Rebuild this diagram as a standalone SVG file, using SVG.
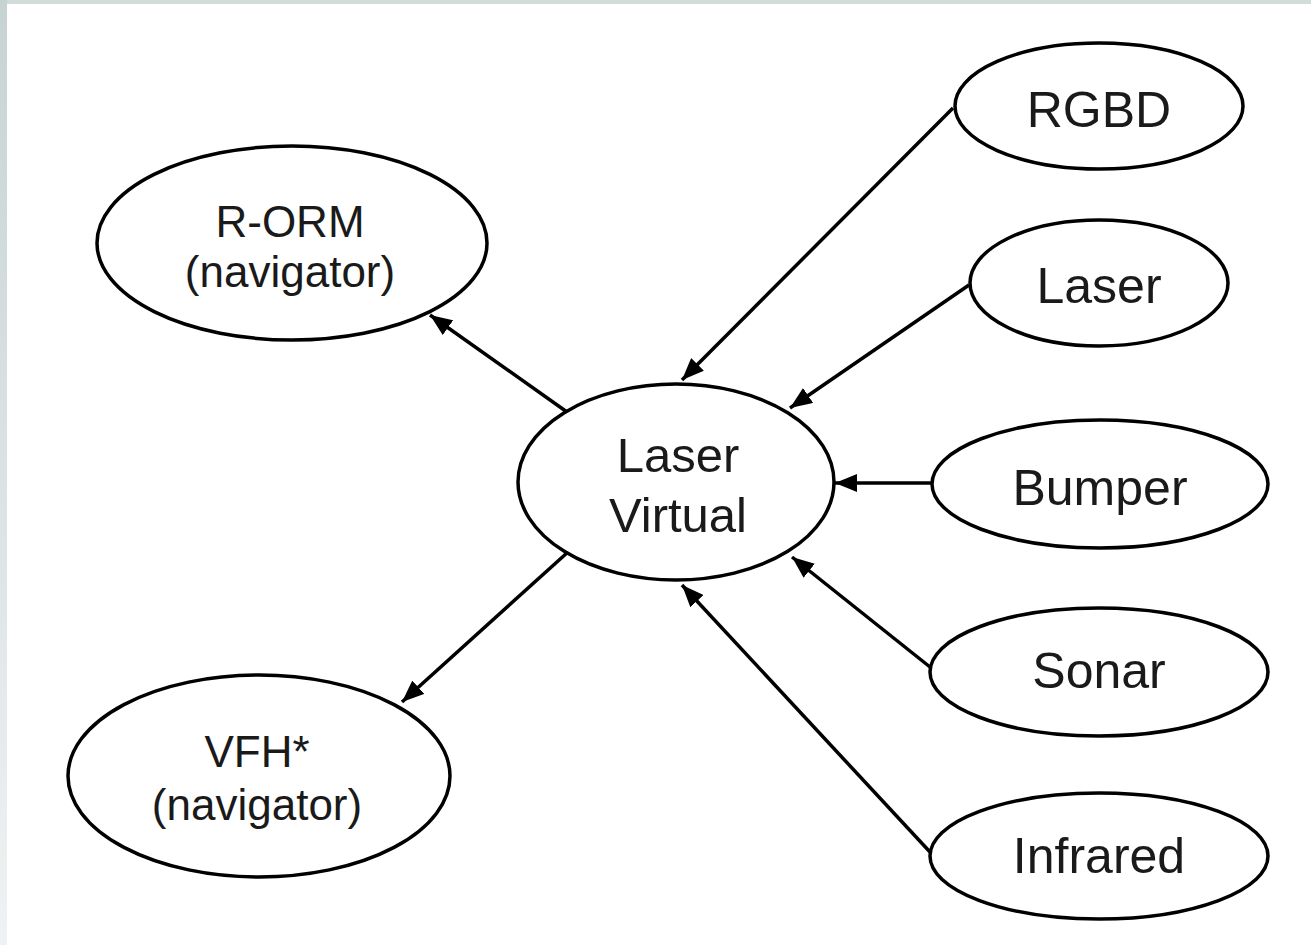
<svg xmlns="http://www.w3.org/2000/svg" width="1311" height="945" viewBox="0 0 1311 945">
<defs>
<linearGradient id="side" x1="0" y1="0" x2="0" y2="1">
<stop offset="0" stop-color="#c6d4d1"/>
<stop offset="1" stop-color="#eef2f2"/>
</linearGradient>
<marker id="arr" markerUnits="userSpaceOnUse" markerWidth="24" markerHeight="18" refX="22" refY="9" orient="auto">
<path d="M0,0 L22,9 L0,18 z" fill="#000"/>
</marker>
</defs>
<style>
.node ellipse{fill:#fff;stroke:#000;stroke-width:3.5}
.node text{font-family:"Liberation Sans",Arial,sans-serif;fill:#1a1a1a;text-anchor:middle}
.edge line{stroke:#000;stroke-width:3.5;marker-end:url(#arr)}
</style>
<rect width="1311" height="945" fill="#fff"/>
<rect width="1311" height="4" fill="#d2dcdb"/>
<rect width="7" height="945" fill="url(#side)"/>
<g id="connectors" class="edge">
<line x1="567" y1="412" x2="430" y2="315"/>
<line x1="568" y1="552" x2="402" y2="702"/>
<line x1="953" y1="108" x2="682" y2="380"/>
<line x1="969" y1="285" x2="790" y2="408"/>
<line x1="931" y1="483" x2="835" y2="483"/>
<line x1="930" y1="667" x2="792" y2="557"/>
<line x1="930" y1="852" x2="682" y2="585"/>
</g>
<g id="n-rorm" class="node">
<ellipse cx="292" cy="243" rx="195" ry="97"/>
<text x="290" y="237" font-size="44">R-ORM</text>
<text x="290" y="287" font-size="44">(navigator)</text>
</g>
<g id="n-vfh" class="node">
<ellipse cx="259" cy="776" rx="191" ry="101"/>
<text x="257" y="767" font-size="44">VFH*</text>
<text x="257" y="820" font-size="44">(navigator)</text>
</g>
<g id="n-lv" class="node">
<ellipse cx="676" cy="482" rx="158" ry="98"/>
<text x="678" y="472" font-size="49">Laser</text>
<text x="678" y="532" font-size="49">Virtual</text>
</g>
<g id="n-rgbd" class="node">
<ellipse cx="1099" cy="106" rx="144" ry="63"/>
<text x="1099" y="127" font-size="50">RGBD</text>
</g>
<g id="n-laser" class="node">
<ellipse cx="1099" cy="283" rx="129" ry="63"/>
<text x="1099" y="303" font-size="50">Laser</text>
</g>
<g id="n-bumper" class="node">
<ellipse cx="1100" cy="484" rx="168" ry="64"/>
<text x="1100" y="505" font-size="50">Bumper</text>
</g>
<g id="n-sonar" class="node">
<ellipse cx="1099" cy="672" rx="169" ry="64"/>
<text x="1099" y="688" font-size="50">Sonar</text>
</g>
<g id="n-infrared" class="node">
<ellipse cx="1099" cy="856" rx="169" ry="63"/>
<text x="1099" y="873" font-size="50">Infrared</text>
</g>
</svg>
